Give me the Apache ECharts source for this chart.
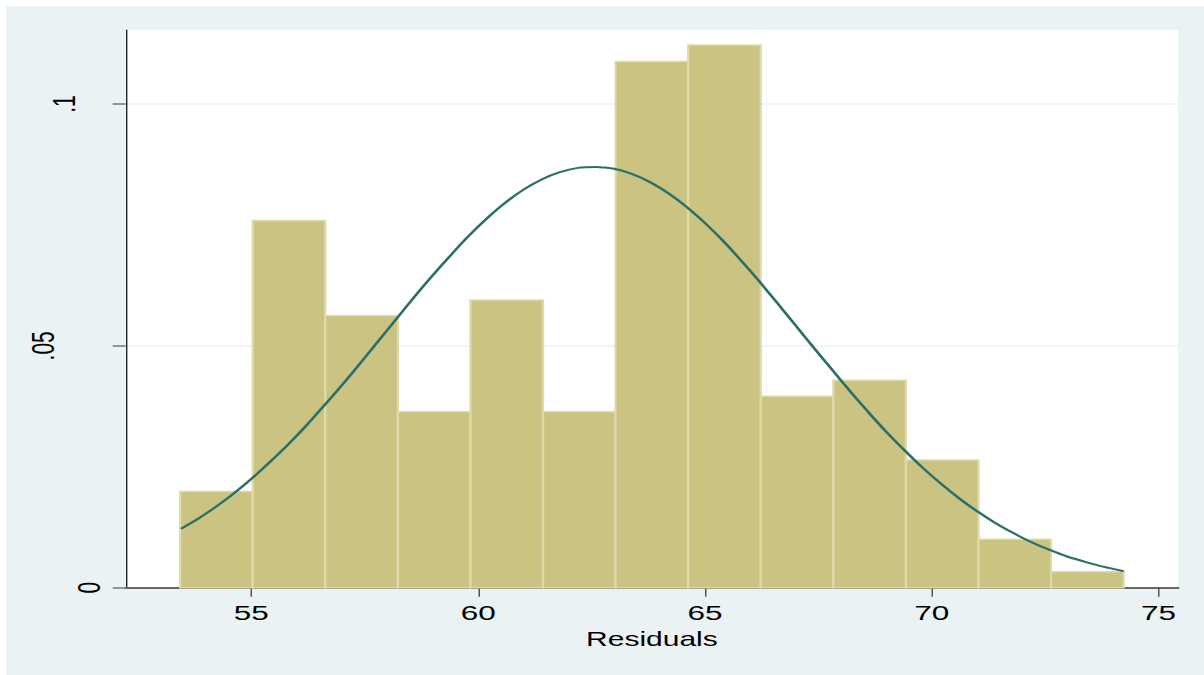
<!DOCTYPE html>
<html>
<head>
<meta charset="utf-8">
<script src="https://cdn.jsdelivr.net/npm/echarts@6/dist/echarts.min.js"></script>
<style>
  html, body { margin: 0; padding: 0; background: #ffffff; width: 1204px; height: 675px; overflow: hidden; }
  #chart { position: absolute; left: 6px; top: 6px; width: 798.67px; height: 669px;
           transform: scaleX(1.5); transform-origin: 0 0; }
</style>
</head>
<body>
<div id="chart"></div>
<script>
// ---- data ----
const binEdges = [53.43, 55.03, 56.63, 58.23, 59.83, 61.43, 63.03, 64.63, 66.23, 67.83, 69.43, 71.03, 72.63, 74.23];
const densities = [0.0199, 0.0759, 0.0562, 0.0364, 0.0595, 0.0364, 0.1088, 0.1122, 0.0396, 0.0429, 0.0264, 0.0100, 0.0033];
const curveX = [53.45, 53.8, 54.2, 54.6, 55.0, 55.4, 55.8, 56.2, 56.6, 57.0, 57.4, 57.8, 58.2, 58.6, 59.0, 59.4, 59.8, 60.2, 60.6, 61.0, 61.4, 61.8, 62.2, 62.6, 63.0, 63.4, 63.8, 64.2, 64.6, 65.0, 65.4, 65.8, 66.2, 66.6, 67.0, 67.4, 67.8, 68.2, 68.6, 69.0, 69.4, 69.8, 70.2, 70.6, 71.0, 71.4, 71.8, 72.2, 72.6, 73.0, 73.4, 73.8, 74.23];
const curveY = [0.0122, 0.0141, 0.0166, 0.0194, 0.0225, 0.0259, 0.0295, 0.0334, 0.0376, 0.0419, 0.0464, 0.0510, 0.0556, 0.0602, 0.0646, 0.0688, 0.0728, 0.0764, 0.0796, 0.0823, 0.0844, 0.0859, 0.0868, 0.0870, 0.0866, 0.0855, 0.0838, 0.0815, 0.0787, 0.0754, 0.0717, 0.0676, 0.0633, 0.0588, 0.0542, 0.0496, 0.0451, 0.0406, 0.0363, 0.0322, 0.0284, 0.0248, 0.0215, 0.0185, 0.0158, 0.0134, 0.0113, 0.0094, 0.0078, 0.0064, 0.0053, 0.0043, 0.0034];
const xTicks = [55, 60, 65, 70, 75];
const yTicks = [0, 0.05, 0.1];
const yTickLabels = ['0', '.05', '.1'];
const xTitle = 'Residuals';

const FONT = '"Liberation Sans", Arial, sans-serif';
const chart = echarts.init(document.getElementById('chart'), null, { renderer: 'svg' });

const barData = densities.map((d, i) => [binEdges[i], binEdges[i + 1], d]);
const curveData = curveX.map((x, i) => [x, curveY[i]]);

const option = {
  backgroundColor: '#EAF2F3',
  animation: false,
  grid: { left: 79.8, right: 17.6, top: 24, bottom: 87.3, show: true, backgroundColor: '#ffffff', borderWidth: 0 },
  xAxis: {
    type: 'value', min: 52.23, max: 75.43,
    name: xTitle, nameLocation: 'middle', nameGap: 39,
    nameTextStyle: { fontFamily: FONT, fontSize: 20, color: '#000' },
    axisLine: { show: true, onZero: false, lineStyle: { color: '#666', width: 2 } },
    axisTick: { show: true, customValues: xTicks, length: 9, lineStyle: { color: '#444', width: 0.9 } },
    axisLabel: { customValues: xTicks, margin: 15, fontFamily: FONT, fontSize: 21, color: '#000' },
    splitLine: { show: false }
  },
  yAxis: {
    type: 'value', min: 0, max: 0.1153,
    axisLine: { show: true, lineStyle: { color: '#000', width: 0.8 } },
    axisTick: { show: true, customValues: yTicks, length: 8.7, lineStyle: { color: '#777', width: 1.5 } },
    axisLabel: {
      customValues: yTicks, rotate: 90, margin: 13.5, fontFamily: FONT, fontSize: 21, color: '#000',
      formatter: function (v) {
        const i = yTicks.findIndex(t => Math.abs(t - v) < 1e-9);
        return '{l' + i + '|' + yTickLabels[i] + '}';
      },
      rich: {
        l0: { fontFamily: FONT, fontSize: 21, color: '#000', padding: [0, 0, 0, 0] },
        l1: { fontFamily: FONT, fontSize: 21, color: '#000', padding: [0, 0, 31, 0] },
        l2: { fontFamily: FONT, fontSize: 21, color: '#000', padding: [0, 0, 17, 0] }
      }
    },
    splitLine: { show: true, lineStyle: { color: '#EAF2F3', width: 1.5 } }
  },
  series: [
    {
      type: 'custom',
      data: barData,
      encode: { x: [0, 1], y: 2 },
      z: 2,
      renderItem: function (params, api) {
        const p0 = api.coord([api.value(0), 0]);
        const p1 = api.coord([api.value(1), api.value(2)]);
        return {
          type: 'rect',
          shape: { x: p0[0], y: p1[1], width: p1[0] - p0[0], height: p0[1] - p1[1] },
          style: { fill: '#CAC382', stroke: '#DFDBA9', lineWidth: 1.5 }
        };
      }
    },
    {
      type: 'line',
      data: curveData,
      smooth: 0.2,
      showSymbol: false,
      z: 3,
      lineStyle: { color: '#2A6F68', width: 2 }
    }
  ]
};
chart.setOption(option);
</script>
</body>
</html>
